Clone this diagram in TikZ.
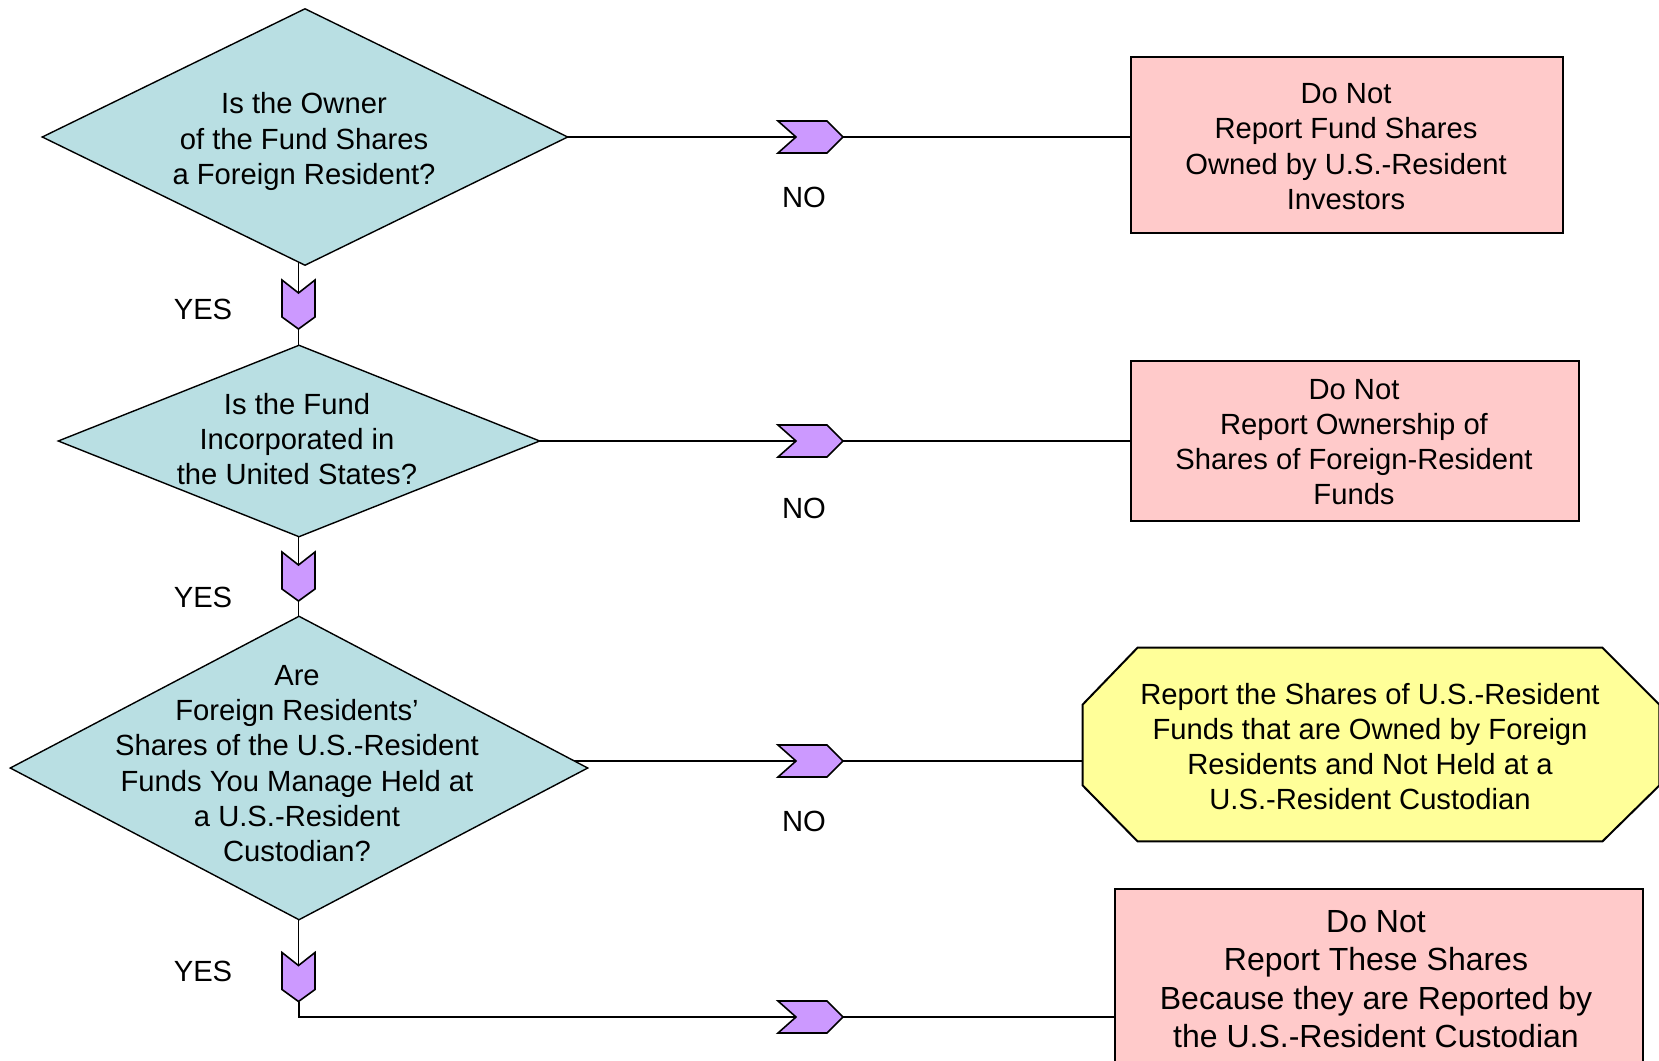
\documentclass[tikz,border=0pt]{standalone}
\usepackage{fontspec}
\setmainfont{Liberation Sans}
\usetikzlibrary{shapes.geometric,calc,backgrounds}
\definecolor{dfill}{HTML}{B9DFE3}
\definecolor{bfill}{HTML}{FFCACA}
\definecolor{ofill}{HTML}{FFFF99}
\definecolor{cfill}{HTML}{CC99FF}
\begin{document}
\begin{tikzpicture}[x=0.5pt,y=-0.5pt,
  dec/.style={diamond, draw=black, line width=0.7pt, fill=dfill, inner sep=0pt},
  txt/.style={align=center, inner sep=0pt, font=\fontsize{14.6pt}{17.6pt}\selectfont},
  bigtxt/.style={align=center, inner sep=0pt, font=\fontsize{16pt}{19.25pt}\selectfont},
  endbox/.style={rectangle, draw=black, line width=1pt, fill=bfill, inner sep=0pt},
  octo/.style={draw=black, line width=1pt, fill=ofill},
  chev/.style={draw=black, line width=0.8pt, fill=cfill, line join=miter},
  hline/.style={draw=black, line width=1pt},
  vline/.style={draw=black, line width=0.8pt},
  lbl/.style={inner sep=0pt, font=\fontsize{14.6pt}{17.6pt}\selectfont}]
\useasboundingbox (0,0) rectangle (1659,1060);
\clip (0,0) rectangle (1659,1060);

% decisions
\node[dec, minimum width=263pt, minimum height=128.5pt] (d1) at (305,137) {};
\node[txt] (t1) at (304,141.5) {Is the Owner\\of the Fund Shares\\a Foreign Resident?};
\node[dec, minimum width=241pt, minimum height=96pt] (d2) at (299,441) {};
\node[txt] (t2) at (297,439) {Is the Fund\\Incorporated in\\the United States?};
\node[dec, minimum width=289pt, minimum height=152pt] (d3) at (299,768) {};
\node[txt] (t3) at (297,763.5) {Are\\Foreign Residents’\\Shares of the U.S.-Resident\\Funds You Manage Held at\\a U.S.-Resident\\Custodian?};

% outcomes
\node[endbox, minimum width=216pt, minimum height=88pt] (b1) at (1347,145) {};
\node[txt] (bt1) at (1346,146.5) {Do Not\\Report Fund Shares\\Owned by U.S.-Resident\\Investors};
\node[endbox, minimum width=224pt, minimum height=80pt] (b2) at (1355,441) {};
\node[txt] (bt2) at (1354,442) {Do Not\\Report Ownership of\\Shares of Foreign-Resident\\Funds};
\node[inner sep=0pt, minimum width=288pt, minimum height=96.5pt] (oct) at (1371,744.5) {};
\draw[octo] ($(oct.north west)+(55,0)$) -- ($(oct.north east)+(-57,0)$) -- ($(oct.north east)+(0,57)$)
  -- ($(oct.south east)+(0,-56)$) -- ($(oct.south east)+(-57,0)$) -- ($(oct.south west)+(55,0)$)
  -- ($(oct.south west)+(0,-56)$) -- ($(oct.north west)+(0,57)$) -- cycle;
\node[txt] (ot) at (1370,746.5) {Report the Shares of U.S.-Resident\\Funds that are Owned by Foreign\\Residents and Not Held at a\\U.S.-Resident Custodian};
\node[endbox, minimum width=264pt, minimum height=90pt] (b4) at (1379,979) {};
\node[bigtxt] (bt4) at (1376,979) {Do Not\\Report These Shares\\Because they are Reported by\\the U.S.-Resident Custodian};

% chevron anchor points
\coordinate (hn1) at (796,137);
\coordinate (hn2) at (796,441);
\coordinate (hn3) at (796,761);
\coordinate (hn4) at (796,1017);
\coordinate (ht1) at ($(hn1)+(47,0)$);
\coordinate (ht2) at ($(hn2)+(47,0)$);
\coordinate (ht3) at ($(hn3)+(47,0)$);
\coordinate (ht4) at ($(hn4)+(47,0)$);
\coordinate (vn1) at (298.5,293);
\coordinate (vn2) at (298.5,565);
\coordinate (vn3) at (298.5,965.5);
\coordinate (vt1) at ($(vn1)+(0,36)$);
\coordinate (vt2) at ($(vn2)+(0,36)$);
\coordinate (vt3) at ($(vn3)+(0,36)$);

% connectors
\begin{pgfonlayer}{background}
\draw[hline] (d1.center) -- (hn1);
\draw[hline] (ht1) -- (b1.west |- ht1);
\draw[hline] (d2.center) -- (hn2);
\draw[hline] (ht2) -- (b2.west |- ht2);
\draw[hline] (d3.center |- hn3) -- (hn3);
\draw[hline] (ht3) -- (oct.west |- ht3);
\draw[vline] (vn1 |- d1.center) -- (vn1);
\draw[vline] (vt1) -- (vt1 |- d2.center);
\draw[vline] (vn2 |- d2.center) -- (vn2);
\draw[vline] (vt2) -- (vt2 |- d3.center);
\draw[vline] (vn3 |- d3.center) -- (vn3);
\draw[hline] (vt3) |- (hn4);
\draw[hline] (ht4) -- (b4.west |- ht4);
\end{pgfonlayer}

% chevrons
\foreach \c in {hn1,hn2,hn3,hn4}{
  \draw[chev] (\c) -- ++(-18,-16) -- ++(49,0) -- ++(16,16) -- ++(-16,16) -- ++(-49,0) -- cycle;
}
\foreach \c in {vn1,vn2,vn3}{
  \draw[chev] (\c) -- ++(-16.5,-13) -- ++(0,37) -- ++(16.5,12) -- ++(16.5,-12) -- ++(0,-37) -- cycle;
}

% labels
\node[lbl] (y1) at (203,309) {YES};
\node[lbl] (y2) at (203,597) {YES};
\node[lbl] (y3) at (203,971) {YES};
\node[lbl] (n1) at (804,197) {NO};
\node[lbl] (n2) at (804,508) {NO};
\node[lbl] (n3) at (804,821) {NO};
\end{tikzpicture}
\end{document}
